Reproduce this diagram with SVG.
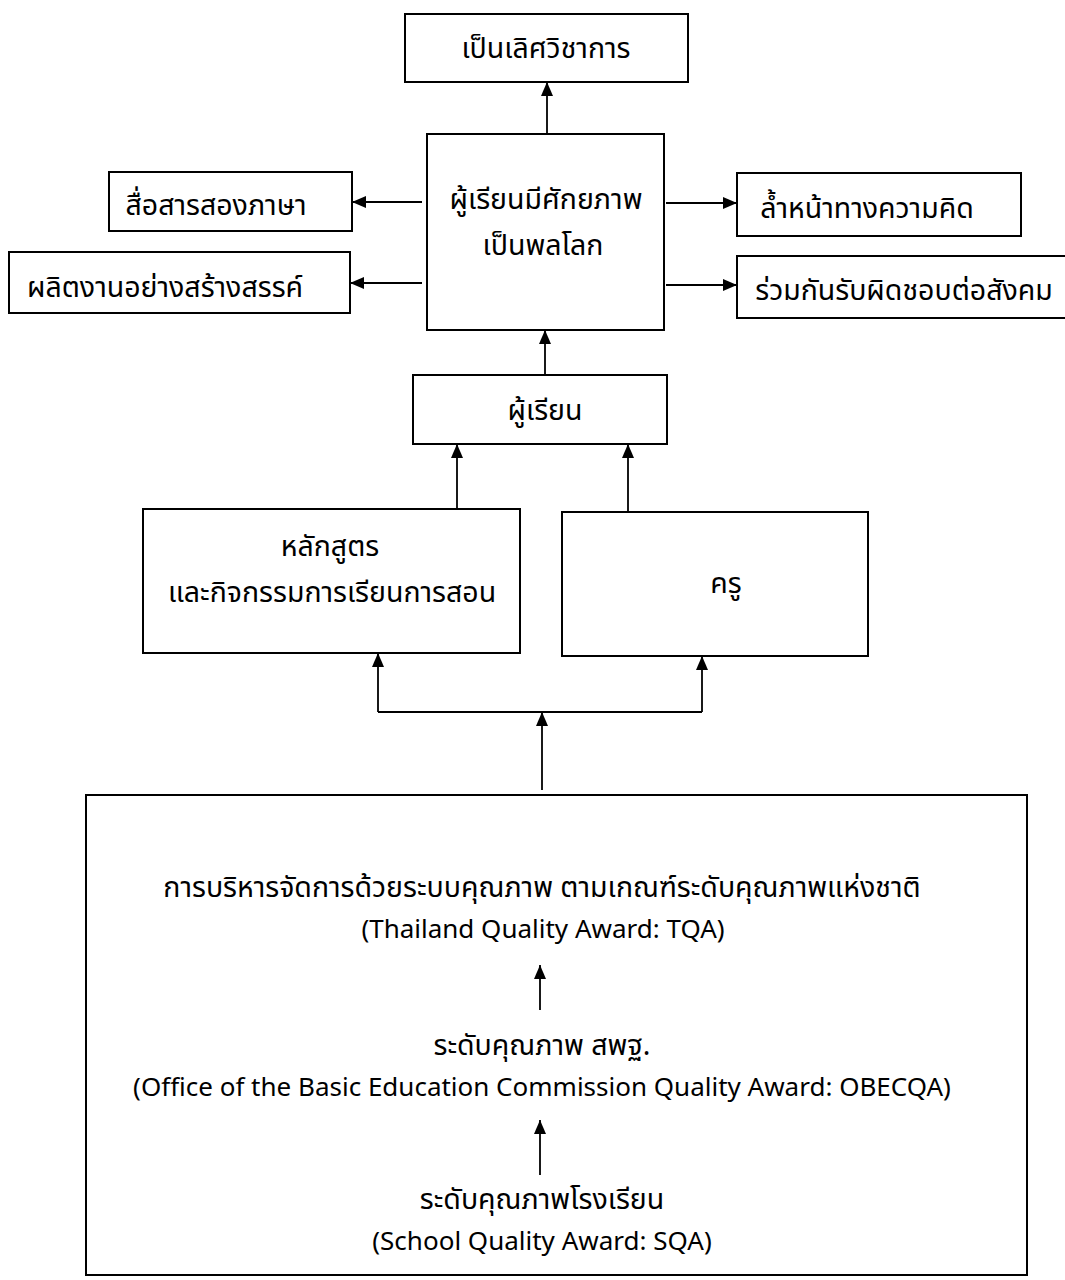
<svg xmlns="http://www.w3.org/2000/svg" width="1065" height="1280" viewBox="0 0 1065 1280">
<defs>
<marker id="ah" viewBox="0 0 14 12" refX="14" refY="6" markerWidth="14" markerHeight="12" markerUnits="userSpaceOnUse" orient="auto">
<path d="M0,0 L14,6 L0,12 z" fill="#000"/>
</marker>
<style>
rect{fill:#fff;stroke:#000;stroke-width:2}
text{font-family:"Noto Sans Thai","Noto Sans","DejaVu Sans",sans-serif;font-size:28.5px;fill:#000;text-anchor:middle}
text.en{font-size:26px}
.c line,.c polyline{stroke:#000;stroke-width:1.8;fill:none}
.a{marker-end:url(#ah)}
</style>
</defs>
<rect x="0" y="0" width="1065" height="1280" style="stroke:none"/>
<g id="n-top"><rect x="405" y="14" width="283" height="68"/><text x="546" y="58">เป็นเลิศวิชาการ</text></g>
<g id="n-center"><rect x="427" y="134" width="237" height="196"/><text x="546" y="209">ผู้เรียนมีศักยภาพ</text><text x="543" y="255">เป็นพลโลก</text></g>
<g id="n-l1"><rect x="109" y="172" width="243" height="59"/><text x="216" y="215">สื่อสารสองภาษา</text></g>
<g id="n-l2"><rect x="9" y="252" width="341" height="61"/><text x="165" y="297">ผลิตงานอย่างสร้างสรรค์</text></g>
<g id="n-r1"><rect x="737" y="173" width="284" height="63"/><text x="867" y="218">ล้ำหน้าทางความคิด</text></g>
<g id="n-r2"><rect x="737" y="256" width="330" height="62"/><text x="904" y="300">ร่วมกันรับผิดชอบต่อสังคม</text></g>
<g id="n-learner"><rect x="413" y="375" width="254" height="69"/><text x="545" y="420">ผู้เรียน</text></g>
<g id="n-curr"><rect x="143" y="509" width="377" height="144"/><text x="330" y="556">หลักสูตร</text><text x="332" y="602">และกิจกรรมการเรียนการสอน</text></g>
<g id="n-teacher"><rect x="562" y="512" width="306" height="144"/><text x="726" y="593">ครู</text></g>
<g id="n-bottom"><rect x="86" y="795" width="941" height="480"/>
<text x="542" y="897">การบริหารจัดการด้วยระบบคุณภาพ ตามเกณฑ์ระดับคุณภาพแห่งชาติ</text>
<text class="en" x="543" y="938">(Thailand Quality Award: TQA)</text>
<text x="542" y="1055">ระดับคุณภาพ สพฐ.</text>
<text class="en" x="542" y="1096">(Office of the Basic Education Commission Quality Award: OBECQA)</text>
<text x="542" y="1209">ระดับคุณภาพโรงเรียน</text>
<text class="en" x="542" y="1250">(School Quality Award: SQA)</text>
</g>
<g id="connectors" class="c">
<line class="a" x1="547" y1="134" x2="547" y2="82"/>
<line class="a" x1="422" y1="202" x2="352" y2="202"/>
<line class="a" x1="422" y1="283" x2="350" y2="283"/>
<line class="a" x1="666" y1="203" x2="737" y2="203"/>
<line class="a" x1="666" y1="285" x2="737" y2="285"/>
<line class="a" x1="545" y1="375" x2="545" y2="330"/>
<line class="a" x1="457" y1="509" x2="457" y2="444"/>
<line class="a" x1="628" y1="512" x2="628" y2="444"/>
<line class="a" x1="378" y1="712" x2="378" y2="653"/>
<polyline points="378,712 702,712"/>
<line class="a" x1="702" y1="712" x2="702" y2="656"/>
<line class="a" x1="542" y1="790" x2="542" y2="712"/>
<line class="a" x1="540" y1="1010" x2="540" y2="965"/>
<line class="a" x1="540" y1="1175" x2="540" y2="1120"/>
</g>
</svg>
